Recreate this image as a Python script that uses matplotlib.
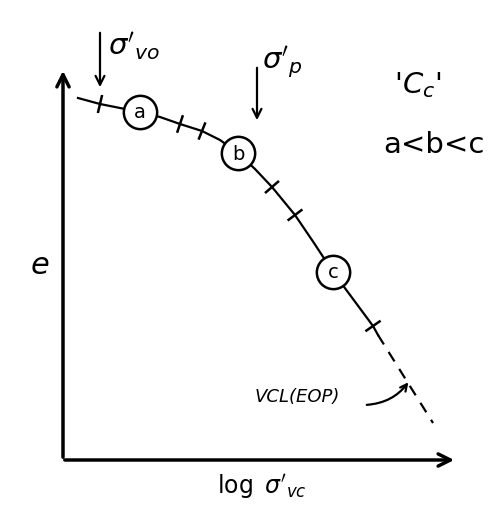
"""Sketch of e - log sigma'_vc compression curve with Cc comparison points."""

import numpy as np
import matplotlib.pyplot as plt

# compression curve (solid part), drawn in sketch units (x right, y down)
curve_x = [78, 100, 120, 140, 160, 180, 202, 220, 238, 255, 272, 295, 314,
           333, 353, 373, 378]
curve_y = [98, 104, 108, 112, 117, 124, 131, 140, 153, 169, 187, 215, 243,
           272, 299, 326, 335]

# dashed extension along the virgin compression line
vcl_x = [378, 433]
vcl_y = [335, 423]

# tick marks along the curve (indices into curve arrays)
tick_idx = [1, 5, 6, 10, 11, 15]

# circled points a, b, c
point_idx = [3, 8, 13]
point_labels = ['a', 'b', 'c']

plt.rcParams['font.family'] = 'DejaVu Sans'
plt.rcParams['mathtext.fontset'] = 'dejavusans'

fig = plt.figure(figsize=(4.97, 5.08), dpi=100)
ax = fig.add_axes([0, 0, 1, 1])
ax.set_xlim(0, 497)
ax.set_ylim(508, 0)
ax.axis('off')

# axes arrows
ax.annotate('', xy=(63, 68), xytext=(63, 460),
            arrowprops=dict(arrowstyle='->', lw=2.5, color='black',
                            mutation_scale=22))
ax.annotate('', xy=(457, 460), xytext=(62, 460),
            arrowprops=dict(arrowstyle='->', lw=2.5, color='black',
                            mutation_scale=22))

# curve
ax.plot(curve_x, curve_y, '-', color='black', lw=1.6)
ax.plot(vcl_x, vcl_y, '--', color='black', lw=1.6, dashes=(5, 4))

# short ticks across the curve
cx = np.array(curve_x, dtype=float)
cy = np.array(curve_y, dtype=float)
for i in tick_idx:
    dx = cx[min(i + 1, len(cx) - 1)] - cx[i - 1]
    dy = cy[min(i + 1, len(cy) - 1)] - cy[i - 1]
    n = np.hypot(dx, dy)
    px, py = -dy / n * 8, dx / n * 8
    ax.plot([cx[i] - px, cx[i] + px], [cy[i] - py, cy[i] + py],
            color='black', lw=1.8)

# circled points
for i, lab in zip(point_idx, point_labels):
    ax.plot(cx[i], cy[i], 'o', ms=24, mfc='white', mec='black', mew=1.8)
    ax.text(cx[i], cy[i] + 1, lab, ha='center', va='center', fontsize=14)

# stress markers
ax.annotate('', xy=(100, 90), xytext=(100, 30),
            arrowprops=dict(arrowstyle='->', lw=1.6, color='black',
                            mutation_scale=16))
ax.text(108, 46, r"$\sigma'_{vo}$", fontsize=21, ha='left', va='center')
ax.annotate('', xy=(257, 123), xytext=(257, 65),
            arrowprops=dict(arrowstyle='->', lw=1.6, color='black',
                            mutation_scale=16))
ax.text(262, 62, r"$\sigma'_{p}$", fontsize=21, ha='left', va='center')

# Cc note
ax.text(418, 85, r"'$C_c$'", fontsize=21, ha='center', va='center')
ax.text(434, 145, 'a<b<c', fontsize=21, ha='center', va='center')

# axis labels
ax.text(40, 265, 'e', fontsize=22, ha='center', va='center', style='italic')
ax.text(262, 487, r"$\log\ \sigma'_{vc}$", fontsize=17, ha='center',
        va='center')

# VCL label with pointer
ax.text(297, 397, 'VCL(EOP)', fontsize=13, ha='center', va='center',
        style='italic')
ax.annotate('', xy=(410, 380), xytext=(364, 405),
            arrowprops=dict(arrowstyle='->', lw=1.6, color='black',
                            connectionstyle='arc3,rad=0.25',
                            mutation_scale=12))

fig.savefig('out.png', dpi=100, facecolor='white')
